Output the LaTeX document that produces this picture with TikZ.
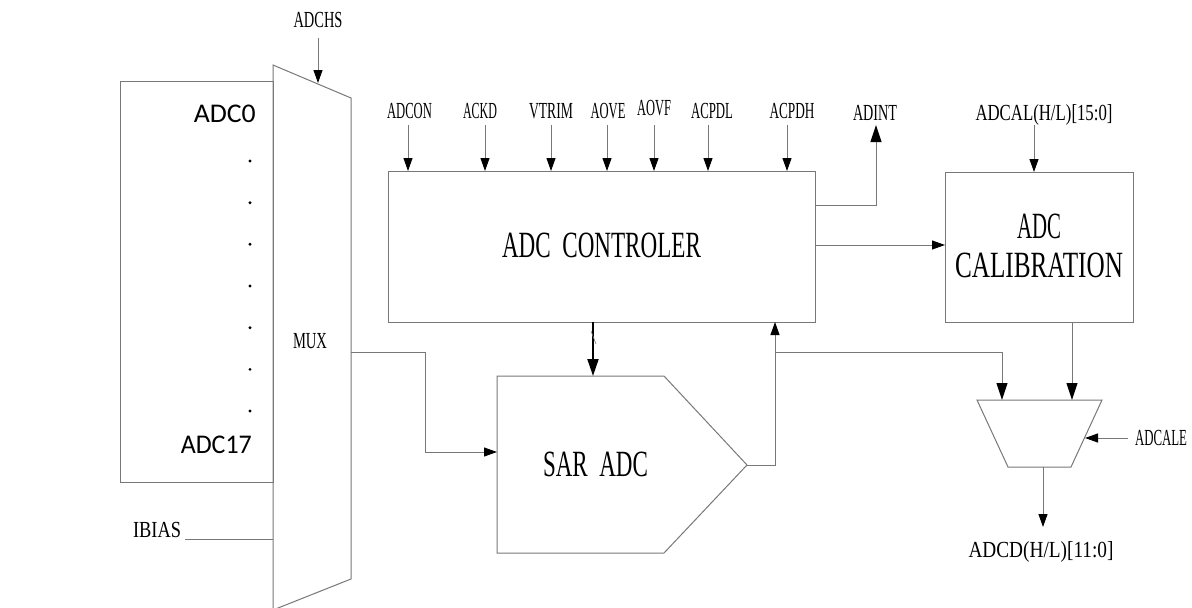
\documentclass[tikz,border=0pt]{standalone}
\usepackage{fontspec}
\setmainfont{Liberation Serif}
\newfontfamily\sansf{Carlito}
\usetikzlibrary{arrows.meta}
\definecolor{ln}{RGB}{120,120,120}
\newcommand\lbl[2]{\resizebox{#1pt}{\height}{#2}}
\begin{document}
\begin{tikzpicture}[x=1pt,y=-1pt,
  wire/.style={draw=ln, line width=1pt},
  box/.style={draw=ln, line width=1pt, inner sep=0pt, outer sep=0pt},
  arr/.style={wire, -{Triangle[length=13pt,width=9pt,color=black]}},
  arrb/.style={wire, -{Triangle[length=17pt,width=11pt,color=black]}},
  sm/.style={font=\fontsize{23}{23}\selectfont, inner sep=0pt, anchor=base},
  bg/.style={font=\fontsize{37}{37}\selectfont, inner sep=0pt, anchor=base},
  sf/.style={font=\sansf\fontsize{27}{27}\selectfont, inner sep=0pt, anchor=base east}]
\useasboundingbox (0,0) rectangle (1192,608);
\fill[white] (0,0) rectangle (1192,608);

% boxes
\node[box, minimum width=153pt, minimum height=401pt] (chbox) at (196.5,281.5) {};
\node[box, minimum width=427pt, minimum height=151pt] (ctl) at (601.5,246.5) {};
\node[box, minimum width=188pt, minimum height=150pt] (cal) at (1039,247) {};

% input mux
\draw[wire] (273,65) coordinate (muxTL) -- (351,98) coordinate (muxTR)
  -- (351,579) coordinate (muxBR) -- (273,610) coordinate (muxBL) -- cycle;
% SAR ADC
\draw[wire] (497,376) coordinate (sarTL) -- (664,376) coordinate (sarTR)
  -- (747,465) coordinate (sarOut) -- (664,553) coordinate (sarBR)
  -- (497,553) coordinate (sarBL) -- cycle;
% output mux
\draw[wire] (977,400) coordinate (omTL) -- (1102,400) coordinate (omTR)
  -- (1071,467) coordinate (omBR) -- (1008,467) coordinate (omBL) -- cycle;

% channel texts
\node[sf] (adc0) at (256,122) {\lbl{62}{ADC0}};
\node[sf] (adc17) at (252,453) {\lbl{71}{ADC17}};
\foreach \i in {0,...,6} \fill (250,{161+41.67*\i}) circle (1.6pt);

% labels
\node[sm] (lADCHS) at (318,27) {\lbl{49}{ADCHS}};
\node[sm] (lMUX) at (310,348) {\lbl{34}{MUX}};
\node[sm] (lIBIAS) at (157,537) {\lbl{48}{IBIAS}};
\node[sm] (lADCON) at (409.5,118) {\lbl{45}{ADCON}};
\node[sm] (lACKD) at (480,118) {\lbl{34}{ACKD}};
\node[sm] (lVTRIM) at (551,118) {\lbl{44}{VTRIM}};
\node[sm] (lAOVE) at (608,118) {\lbl{35}{AOVE}};
\node[sm] (lAOVF) at (654,115) {\lbl{34}{AOVF}};
\node[sm] (lACPDL) at (712,118) {\lbl{42}{ACPDL}};
\node[sm] (lACPDH) at (792,118) {\lbl{45}{ACPDH}};
\node[sm] (lADINT) at (875,120) {\lbl{44}{ADINT}};
\node[sm] (lADCAL) at (1044,120) {\lbl{137}{ADCAL(H/L)[15:0]}};
\node[sm] (lADCALE) at (1161,445) {\lbl{52}{ADCALE}};
\node[sm] (lADCD) at (1041,557) {\lbl{145}{ADCD(H/L)[11:0]}};

\node[bg] (tctl) at (601.5,257) {\lbl{199}{ADC\ \ CONTROLER}};
\node[bg] (tsar) at (595.5,476) {\lbl{105}{SAR\ \ ADC}};
\node[bg] (tcal1) at (1039,238) {\lbl{44}{ADC}};
\node[bg] (tcal2) at (1039,277) {\lbl{168}{CALIBRATION}};

% connectors
\draw[arr] (318,38) coordinate (adchsS) -- (318,83);
\foreach \x in {408,485,551,607,654,708,787}
  \draw[arr] (\x,125) -- (ctl.north -| \x,0);
\draw[arrb] (ctl.east |- 0,205) -- (876,205) -- (876,125) coordinate (adintE);
\draw[arr] (ctl.east |- 0,245) -- (cal.west |- 0,245);
\draw[arr] (1034,125) coordinate (adcalS) -- (cal.north -| 1034,0);
\draw[black, line width=2pt, -{Triangle[length=17pt,width=11pt]}] (ctl.south -| 593,0) -- (sarTL -| 593,0);
\draw[ln, line width=0.6pt] (591,331) -- (596,344);
\draw[arr] (sarOut) -- (775,465) -- (ctl.south -| 775,0);
\draw[arrb] (775,352) -- (1002,352) -- (omTL -| 1002,0);
\draw[arrb] (cal.south -| 1072,0) -- (omTL -| 1072,0);
\draw[arr] (1128,438) coordinate (adcaleS) -- (1085,438);
\draw[arr] (omBL -| 1043,0) -- (1043,527) coordinate (adcdE);
\draw[arr] (muxTR |- 0,352) -- (425,352) -- (425,452) -- (sarTL |- 0,452);
\draw[wire] (185,539) coordinate (ibiasS) -- (muxTL |- 0,539);
\end{tikzpicture}
\end{document}
